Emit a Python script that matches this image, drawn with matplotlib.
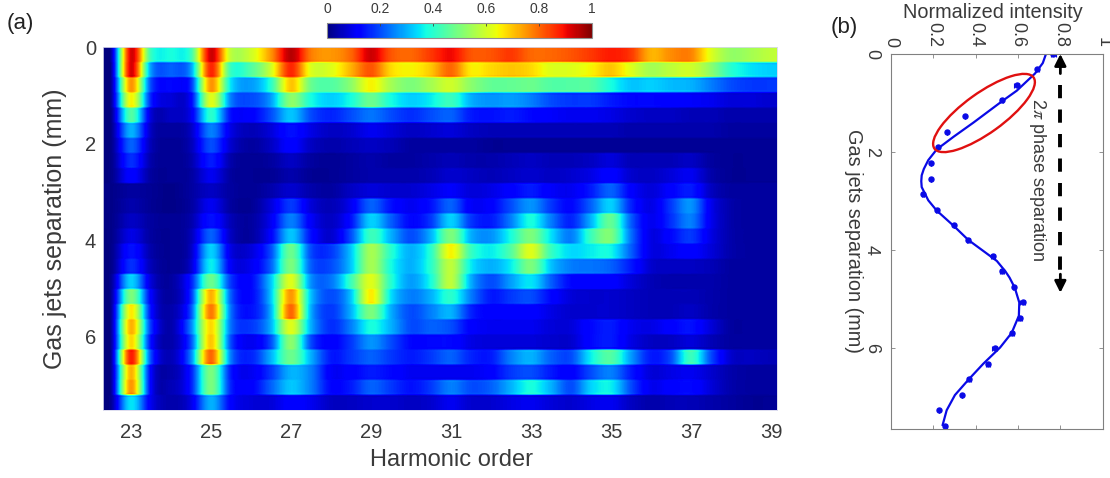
import numpy as np
import matplotlib
matplotlib.use('Agg')
import matplotlib.pyplot as plt
from matplotlib.patches import Ellipse
from matplotlib.transforms import IdentityTransform

plt.rcParams['font.family'] = ['Liberation Sans', 'DejaVu Sans']
plt.rcParams['mathtext.fontset'] = 'stix'

W, H = 1110, 478
text_col = '#3a3a3a'

# spectrum table, one row per separation step, columns are orders 22.5, 23, 23.5 ... 39
spectra = [
    [.03,.92,.42,.38,.42,.93,.58,.60,.75,.95,.78,.75,.80,.93,.82,.80,.85,.90,.82,.82,.85,.80,.80,.82,.85,.88,.85,.72,.76,.77,.62,.53,.55,.58],
    [.02,.92,.28,.22,.28,.87,.42,.45,.60,.87,.62,.62,.72,.82,.68,.65,.70,.80,.66,.68,.70,.68,.62,.62,.65,.70,.62,.55,.58,.60,.52,.40,.35,.33],
    [.02,.75,.20,.13,.17,.75,.35,.28,.40,.70,.48,.45,.52,.65,.55,.50,.55,.60,.52,.47,.47,.48,.45,.45,.45,.38,.32,.33,.31,.30,.25,.20,.18,.18],
    [.02,.65,.16,.08,.12,.62,.25,.20,.28,.52,.38,.33,.38,.48,.38,.33,.36,.42,.30,.27,.28,.25,.20,.18,.18,.15,.13,.13,.12,.11,.10,.08,.08,.07],
    [.01,.45,.08,.06,.10,.40,.14,.12,.20,.32,.20,.16,.20,.24,.20,.17,.20,.22,.15,.14,.15,.13,.11,.10,.10,.09,.07,.06,.06,.05,.05,.04,.04,.04],
    [.01,.30,.06,.03,.06,.25,.09,.05,.08,.14,.09,.06,.07,.10,.08,.06,.07,.08,.06,.05,.05,.05,.05,.05,.05,.05,.04,.04,.04,.04,.04,.03,.03,.03],
    [.01,.22,.05,.02,.05,.20,.07,.03,.06,.12,.06,.04,.05,.06,.05,.03,.03,.03,.03,.02,.02,.02,.02,.02,.02,.02,.02,.02,.02,.02,.02,.02,.02,.02],
    [.01,.17,.04,.02,.04,.15,.04,.02,.03,.06,.03,.02,.03,.04,.03,.03,.04,.05,.04,.04,.05,.06,.05,.05,.06,.08,.05,.05,.05,.06,.03,.02,.02,.02],
    [.01,.12,.03,.02,.03,.10,.03,.02,.02,.04,.02,.02,.03,.04,.04,.04,.05,.07,.06,.05,.06,.07,.06,.07,.09,.12,.07,.06,.08,.10,.04,.02,.02,.02],
    [.01,.03,.02,.01,.03,.06,.03,.02,.04,.07,.04,.03,.06,.08,.07,.07,.09,.11,.08,.09,.12,.15,.11,.10,.15,.22,.12,.08,.12,.15,.06,.03,.03,.03],
    [.01,.04,.02,.01,.03,.10,.03,.02,.08,.18,.08,.05,.10,.22,.14,.10,.14,.22,.11,.12,.20,.27,.18,.13,.22,.33,.16,.09,.18,.27,.10,.04,.03,.03],
    [.01,.06,.03,.02,.04,.14,.05,.03,.10,.25,.11,.06,.14,.33,.22,.13,.18,.33,.18,.15,.25,.38,.25,.16,.30,.47,.22,.10,.17,.25,.10,.04,.03,.03],
    [.01,.09,.03,.02,.05,.22,.06,.03,.12,.32,.14,.07,.20,.42,.30,.20,.30,.50,.30,.27,.38,.50,.35,.25,.42,.50,.24,.09,.13,.18,.09,.04,.03,.03],
    [.01,.14,.04,.02,.06,.33,.09,.08,.20,.48,.20,.18,.32,.55,.40,.30,.40,.65,.42,.36,.45,.62,.42,.34,.36,.37,.22,.09,.10,.12,.08,.04,.03,.03],
    [.01,.17,.05,.02,.07,.36,.11,.10,.22,.50,.22,.20,.32,.55,.38,.30,.40,.58,.36,.30,.36,.50,.32,.25,.24,.22,.15,.07,.06,.06,.05,.03,.03,.03],
    [.02,.33,.08,.03,.15,.48,.18,.13,.32,.62,.27,.24,.42,.62,.40,.28,.38,.58,.30,.20,.28,.35,.22,.13,.12,.12,.08,.05,.04,.04,.04,.03,.03,.03],
    [.02,.50,.12,.03,.17,.72,.22,.13,.32,.75,.32,.20,.32,.66,.35,.25,.30,.40,.25,.15,.18,.20,.13,.08,.07,.07,.06,.05,.05,.05,.04,.03,.03,.03],
    [.02,.66,.14,.04,.20,.78,.24,.14,.30,.80,.30,.18,.30,.50,.30,.20,.25,.30,.16,.12,.12,.12,.09,.07,.07,.07,.06,.05,.05,.06,.04,.03,.03,.03],
    [.02,.72,.18,.04,.25,.68,.24,.18,.30,.62,.30,.17,.25,.38,.30,.20,.22,.20,.12,.10,.10,.10,.08,.08,.13,.15,.10,.09,.12,.14,.08,.03,.03,.03],
    [.02,.68,.14,.04,.20,.70,.20,.10,.20,.52,.20,.12,.18,.27,.20,.13,.13,.13,.09,.08,.08,.08,.07,.07,.13,.15,.09,.06,.06,.08,.05,.03,.03,.03],
    [.02,.88,.20,.05,.25,.80,.25,.16,.30,.48,.30,.15,.18,.22,.18,.15,.18,.22,.16,.15,.25,.30,.22,.20,.36,.45,.28,.15,.20,.42,.20,.07,.06,.05],
    [.02,.72,.12,.04,.15,.50,.15,.10,.18,.30,.25,.11,.12,.15,.13,.10,.10,.10,.10,.12,.18,.20,.15,.12,.20,.25,.15,.08,.09,.10,.07,.04,.03,.03],
    [.02,.75,.12,.05,.15,.50,.16,.12,.22,.32,.25,.13,.15,.22,.18,.14,.18,.25,.20,.22,.30,.38,.30,.20,.33,.36,.20,.10,.12,.13,.08,.04,.03,.03],
    [.02,.35,.10,.04,.09,.30,.12,.08,.08,.12,.10,.06,.06,.07,.07,.06,.07,.10,.07,.07,.09,.10,.08,.07,.09,.10,.06,.04,.05,.05,.04,.03,.02,.02],
]
order_ticks = [23, 25, 27, 29, 31, 33, 35, 37, 39]
sep_ticks = [0, 2, 4, 6]
cbar_ticks = [0, 0.2, 0.4, 0.6, 0.8, 1]
cbar_labels = ['0', '0.2', '0.4', '0.6', '0.8', '1']

# panel b
pt_sep = [0, .315, .63, .945, 1.27, 1.59, 1.91, 2.23, 2.55, 2.86, 3.19, 3.5, 3.8, 4.12, 4.44, 4.76, 5.07, 5.39, 5.7, 6.01, 6.34, 6.65, 6.97, 7.28, 7.6]
pt_int = [.767, .691, .594, .523, .351, .263, .22, .19, .19, .153, .216, .297, .365, .483, .524, .581, .622, .608, .57, .49, .46, .367, .334, .227, .257]
pt_err = [.012, .008, .012, .006, 0, 0, .004, 0, 0, .005, .004, 0, .008, .01, .008, .004, .012, .01, .01, .012, .01, .01, 0, 0, .008]
fit_sep = [0, .185, .4, .75, .97, 1.4, 1.69, 1.95, 2.17, 2.35, 2.48, 2.6, 2.72, 2.99, 3.2, 3.52, 3.8, 4.07, 4.23, 4.44, 4.57, 4.78, 5.08, 5.35, 5.7, 6.0, 6.33, 6.65, 6.97, 7.28, 7.58]
fit_int = [.732, .717, .68, .594, .523, .39, .296, .216, .176, .155, .145, .143, .145, .176, .216, .298, .365, .45, .50, .54, .56, .585, .606, .604, .57, .515, .436, .367, .302, .263, .244]
int_ticks = [0, .2, .4, .6, .8, 1]
int_labels = ['0', '0.2', '0.4', '0.6', '0.8', '1']


def px_axes(x0, y0, x1, y1):
    return fig.add_axes([x0 / W, 1 - y1 / H, (x1 - x0) / W, (y1 - y0) / H])


fig = plt.figure(figsize=(W / 100, H / 100), dpi=100)

# (a) heat map
ax = px_axes(103, 47, 777, 410)
grid = np.repeat(np.array(spectra), 8, axis=0)
im = ax.imshow(grid, aspect='auto', cmap='jet', vmin=0, vmax=1, interpolation='catrom', interpolation_stage='data',
               extent=[22.25, 39.25, 7.54, -0.02])
ax.set_xlim(22.3, 39.15)
ax.set_ylim(7.54, -0.02)
ax.set_xticks(order_ticks)
ax.set_yticks(sep_ticks)
ax.tick_params(length=0, labelsize=14.5, labelcolor=text_col)
ax.tick_params(axis='x', pad=9)
ax.tick_params(axis='y', pad=5)
ax.set_xlabel('Harmonic order', fontsize=17, color=text_col)
ax.xaxis.set_label_coords((452 - 103) / 674, -(460 - 410) / 363, transform=ax.transAxes)
ax.xaxis.label.set_va('center')
ax.set_ylabel('Gas jets separation (mm)', fontsize=18, color=text_col)
ax.yaxis.set_label_coords(-(103 - 67) / 674, 0.5, transform=ax.transAxes)
for s in ax.spines.values():
    s.set_color('#d8d8ee')
    s.set_linewidth(0.6)

# colour bar on top
cax = px_axes(327, 23, 592, 38)
cb = fig.colorbar(im, cax=cax, orientation='horizontal')
cb.set_ticks(cbar_ticks)
cb.set_ticklabels(cbar_labels)
cax.xaxis.set_ticks_position('top')
cax.tick_params(direction='in', length=2, width=0.6, labelsize=10, labelcolor=text_col, pad=5, color='#404040')
cb.outline.set_edgecolor('#909090')
cb.outline.set_linewidth(0.8)

# (b) lineout, drawn turned on its side
bx = px_axes(891, 54, 1102.7, 429.3)
bx.set_xlim(0, 1)
bx.set_ylim(7.67, 0)
bx.plot(fit_int, fit_sep, color='#0a0ae6', lw=1.6, solid_joinstyle='round')
bx.errorbar(pt_int, pt_sep, xerr=pt_err, fmt='o', color='#0a0ae6', ms=3.6, elinewidth=0.8, capsize=1.8, capthick=0.8)
bx.xaxis.set_ticks_position('top')
bx.set_xticks(int_ticks)
bx.set_xticklabels(int_labels, rotation=270, ha='center', va='bottom')
bx.set_yticks(sep_ticks)
bx.set_yticklabels([str(t) for t in sep_ticks], rotation=270, ha='right', va='center')
bx.tick_params(direction='in', length=3, width=0.6, color='#808080', labelsize=13, labelcolor=text_col,
               top=True, bottom=True, left=True, right=True)
bx.tick_params(axis='x', pad=5)
bx.tick_params(axis='y', pad=8)
for s in bx.spines.values():
    s.set_color('#808080')
    s.set_linewidth(0.8)

# double arrow marking the period
bx.plot([.8, .8], [.63, 4.6], color='black', lw=2.8, dashes=(3.4, 2.9))
bx.annotate('', xy=(.8, 0), xytext=(.8, .4), arrowprops=dict(arrowstyle='-|>', color='black', lw=2, mutation_scale=17, shrinkA=0, shrinkB=0))
bx.annotate('', xy=(.8, 4.88), xytext=(.8, 4.5), arrowprops=dict(arrowstyle='-|>', color='black', lw=2, mutation_scale=17, shrinkA=0, shrinkB=0))
bx.text(.69, 2.56, r'2$\pi$ phase separation', rotation=270, ha='center', va='center', fontsize=13, color=text_col)

fig.add_artist(Ellipse((984, H - 113), 122, 40, angle=35.7, fill=False, edgecolor='#e01010', lw=1.7, transform=IdentityTransform()))

fig.text(7 / W, 1 - 23 / H, '(a)', fontsize=16, color='#222222', va='center')
fig.text(831 / W, 1 - 27 / H, '(b)', fontsize=16, color='#222222', va='center')
fig.text(993 / W, 1 - 13 / H, 'Normalized intensity', fontsize=14.3, color=text_col, ha='center', va='center')
fig.text(853 / W, 1 - 241 / H, 'Gas jets separation (mm)', fontsize=14.3, color=text_col, rotation=270, ha='center', va='center')

fig.savefig('out.png', dpi=100)
